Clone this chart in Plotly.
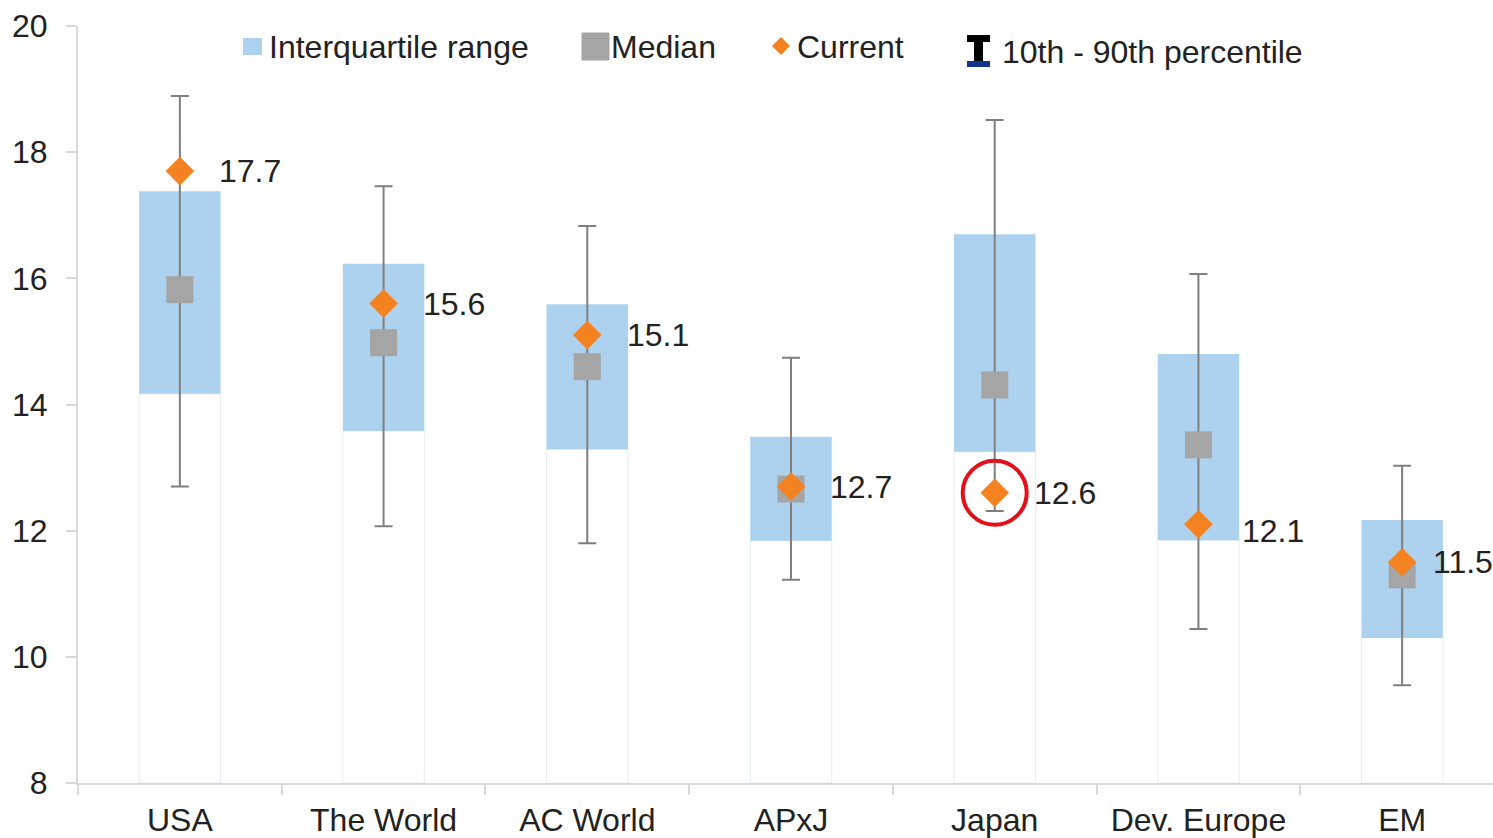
import plotly.graph_objects as go

# Forward P/E distribution by region
categories = ["USA", "The World", "AC World", "APxJ", "Japan", "Dev. Europe", "EM"]
p10 = [12.70, 12.07, 11.80, 11.22, 12.31, 10.44, 9.55]
q1 = [14.17, 13.58, 13.29, 11.84, 13.25, 11.85, 10.30]
median = [15.82, 14.98, 14.60, 12.66, 14.31, 13.36, 11.30]
q3 = [17.38, 16.23, 15.59, 13.49, 16.70, 14.80, 12.17]
p90 = [18.89, 17.46, 16.83, 14.74, 18.51, 16.07, 13.03]
current = [17.7, 15.6, 15.1, 12.7, 12.6, 12.1, 11.5]
highlight = "Japan"

Y_MIN, Y_MAX, Y_STEP = 8, 20, 2
y_ticks = list(range(Y_MIN, Y_MAX + 1, Y_STEP))

FONT = "Liberation Sans, Arial, sans-serif"
FS = 32
TEXT = "#222222"
BLUE = "#acd2ef"
GREY = "#a5a5a5"
ORANGE = "#f58220"
WHISKER = "#7f7f7f"
AXIS = "#d9d9d9"

W, H = 1493, 838
ML, MR, MT, MB = 78, 0, 26, 55
PW, PH = W - ML - MR, H - MT - MB

# pixel nudges for the value labels (x, y)
label_offsets = [(37, 0), (37, 0), (38, 0), (37, 0), (37, 0), (42, -7), (29, 0)]


def xp(px):
    return (px - ML) / PW


def yp(py):
    return (H - MB - py) / PH


fig = go.Figure()

# empty base column below the interquartile box
fig.add_trace(go.Bar(
    x=categories, y=[a - Y_MIN for a in q1], base=[Y_MIN] * len(q1),
    width=0.4, marker=dict(color="white", line=dict(color="#e4edf8", width=1)),
    hoverinfo="skip",
))
# interquartile box
fig.add_trace(go.Bar(
    x=categories, y=[b - a for a, b in zip(q1, q3)], base=q1,
    width=0.4, marker=dict(color=BLUE, line=dict(width=0)),
    name="Interquartile range",
))
# median with 10th-90th percentile whiskers
fig.add_trace(go.Scatter(
    x=categories, y=median, mode="markers",
    marker=dict(symbol="square", size=27, color=GREY),
    error_y=dict(type="data", symmetric=False,
                 array=[h - m for h, m in zip(p90, median)],
                 arrayminus=[m - l for m, l in zip(median, p10)],
                 color=WHISKER, thickness=2, width=9),
    name="Median",
))
# current value
fig.add_trace(go.Scatter(
    x=categories, y=current, mode="markers",
    marker=dict(symbol="diamond", size=22, color=ORANGE),
    name="Current",
))

annotations = []
for c, v, (dx, dy) in zip(categories, current, label_offsets):
    annotations.append(dict(
        x=c, y=v, xref="x", yref="y", text=f"{v:.1f}", showarrow=False,
        xanchor="left", yanchor="middle", xshift=dx, yshift=dy,
        font=dict(family=FONT, size=FS, color=TEXT),
    ))

shapes = []
# highlight ring
hi = categories.index(highlight)
shapes.append(dict(
    type="circle", xref="x", yref="y", xsizemode="pixel", ysizemode="pixel",
    xanchor=hi, yanchor=current[hi], x0=-32, x1=32, y0=-32, y1=32,
    line=dict(color="#e3101a", width=4), layer="above",
))

# legend
legend_font = dict(family=FONT, size=FS, color=TEXT)
shapes.append(dict(type="rect", xref="paper", yref="paper",
                   x0=xp(243), x1=xp(262), y0=yp(55), y1=yp(38),
                   fillcolor=BLUE, line=dict(width=0)))
annotations.append(dict(x=xp(267), y=yp(47), xref="paper", yref="paper",
                        text="Interquartile range", showarrow=False,
                        xanchor="left", yanchor="middle", font=legend_font))
shapes.append(dict(type="rect", xref="paper", yref="paper",
                   x0=xp(582), x1=xp(609), y0=yp(60), y1=yp(33),
                   fillcolor=GREY, line=dict(color=GREY, width=1)))
annotations.append(dict(x=xp(609), y=yp(47), xref="paper", yref="paper",
                        text="Median", showarrow=False,
                        xanchor="left", yanchor="middle", font=legend_font))
dx0, dx1, dy0, dy1 = xp(772), xp(790), yp(55), yp(37)
shapes.append(dict(type="path", xref="paper", yref="paper",
                   path=f"M {(dx0 + dx1) / 2} {dy1} L {dx1} {(dy0 + dy1) / 2} "
                        f"L {(dx0 + dx1) / 2} {dy0} L {dx0} {(dy0 + dy1) / 2} Z",
                   fillcolor=ORANGE, line=dict(width=0)))
annotations.append(dict(x=xp(795), y=yp(47), xref="paper", yref="paper",
                        text="Current", showarrow=False,
                        xanchor="left", yanchor="middle", font=legend_font))
shapes.append(dict(type="rect", xref="paper", yref="paper",
                   x0=xp(967), x1=xp(990), y0=yp(42), y1=yp(35),
                   fillcolor="black", line=dict(width=0)))
shapes.append(dict(type="rect", xref="paper", yref="paper",
                   x0=xp(974), x1=xp(983), y0=yp(61), y1=yp(42),
                   fillcolor="black", line=dict(width=0)))
shapes.append(dict(type="rect", xref="paper", yref="paper",
                   x0=xp(967), x1=xp(990), y0=yp(67), y1=yp(61),
                   fillcolor="#14358f", line=dict(width=0)))
annotations.append(dict(x=xp(1000), y=yp(52), xref="paper", yref="paper",
                        text="10th - 90th percentile", showarrow=False,
                        xanchor="left", yanchor="middle", font=legend_font))

fig.update_layout(
    width=W, height=H,
    margin=dict(l=ML, r=MR, t=MT, b=MB, pad=0),
    paper_bgcolor="white", plot_bgcolor="white",
    barmode="overlay", showlegend=False,
    font=dict(family=FONT, size=FS, color=TEXT),
    annotations=annotations, shapes=shapes,
    xaxis=dict(
        type="category", range=[-0.5, 6.446],
        showline=True, linecolor=AXIS, linewidth=2,
        ticks="outside", tickson="boundaries", ticklen=10,
        tickcolor=AXIS, tickwidth=2, showgrid=False, ticklabelstandoff=8,
        tickfont=dict(family=FONT, size=FS, color=TEXT),
    ),
    yaxis=dict(
        range=[Y_MIN, Y_MAX], tickvals=y_ticks,
        showline=True, linecolor=AXIS, linewidth=2,
        ticks="outside", ticklen=10, tickcolor=AXIS, tickwidth=2,
        showgrid=False, zeroline=False, ticklabelstandoff=12,
        tickfont=dict(family=FONT, size=FS, color=TEXT),
    ),
)

fig.write_html("out.html")
